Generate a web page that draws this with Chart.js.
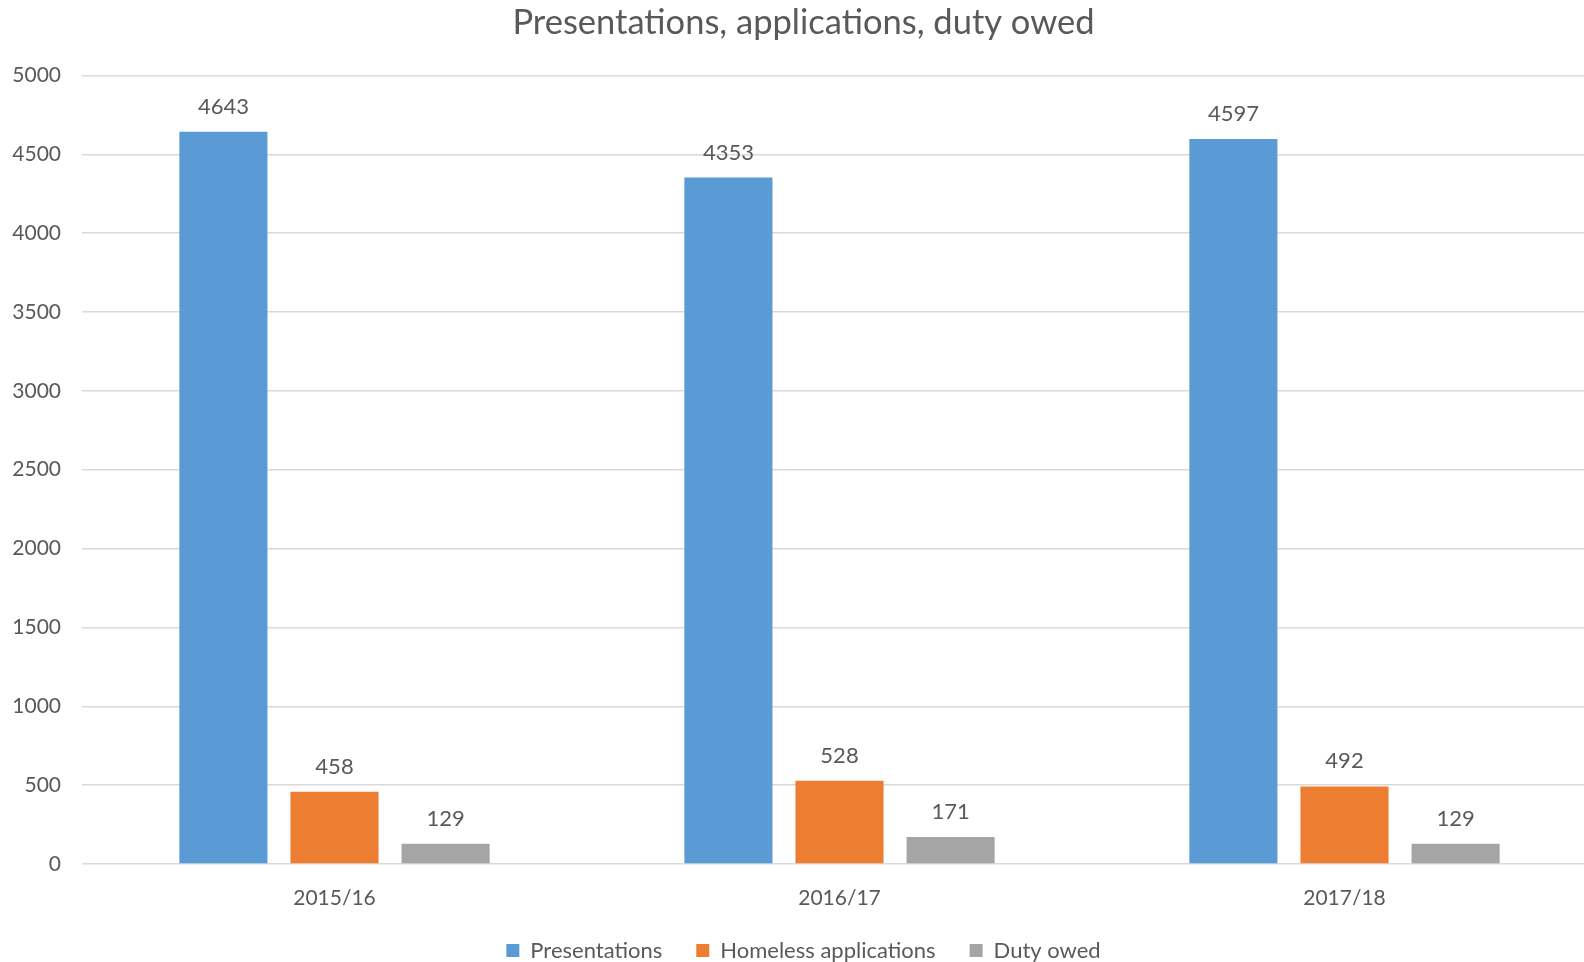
<!DOCTYPE html>
<html>
<head>
<meta charset="utf-8">
<script src="https://cdn.jsdelivr.net/npm/chart.js@4/dist/chart.umd.min.js"></script>
<style>
  html, body { margin: 0; padding: 0; background: #fff; overflow: hidden; }
  /* the original plot runs past the right edge of the picture, so the canvas is a bit wider than the page */
  #wrap { width: 1584px; height: 962px; overflow: hidden; }
</style>
</head>
<body>
<div id="wrap"><canvas id="c" width="1598" height="962"></canvas></div>
<script>
const categories = ['2015/16', '2016/17', '2017/18'];
const presentations = [4643, 4353, 4597];
const homelessApplications = [458, 528, 492];
const dutyOwed = [129, 171, 129];

const textColor = '#595959';
const fontFamily = 'Lato, "Open Sans", sans-serif';

// values above each bar
const valueLabels = {
  id: 'valueLabels',
  afterDatasetsDraw(chart) {
    const ctx = chart.ctx;
    ctx.save();
    ctx.fillStyle = textColor;
    ctx.font = '22px ' + fontFamily;
    ctx.textAlign = 'center';
    ctx.textBaseline = 'bottom';
    chart.data.datasets.forEach((ds, i) => {
      const meta = chart.getDatasetMeta(i);
      meta.data.forEach((bar, j) => {
        ctx.fillText(String(ds.data[j]), bar.x, bar.y - 14);
      });
    });
    ctx.restore();
  }
};

new Chart(document.getElementById('c').getContext('2d'), {
  type: 'bar',
  data: {
    labels: categories,
    datasets: [
      { label: 'Presentations', data: presentations, backgroundColor: '#5B9BD5' },
      { label: 'Homeless applications', data: homelessApplications, backgroundColor: '#ED7D31' },
      { label: 'Duty owed', data: dutyOwed, backgroundColor: '#A5A5A5' }
    ]
  },
  options: {
    responsive: false,
    animation: false,
    layout: { padding: { left: 10, right: 1, top: 0, bottom: -9.5 } },
    datasets: { bar: { categoryPercentage: 0.66, barPercentage: 0.793 } },
    scales: {
      x: {
        afterFit(scale) { scale.height = 41.5; },
        grid: { display: false },
        border: { display: false },
        ticks: { color: textColor, font: { family: fontFamily, size: 21 }, padding: 14 }
      },
      y: {
        min: 0,
        max: 5000,
        afterFit(scale) { scale.width = 72; },
        ticks: {
          stepSize: 500,
          color: textColor,
          font: { family: fontFamily, size: 21 },
          padding: 21,
          callback: v => String(v)
        },
        grid: { color: '#d9d9d9', lineWidth: 1.5, drawTicks: false },
        border: { display: false }
      }
    },
    plugins: {
      title: {
        display: true,
        text: 'Presentations, applications, duty owed',
        color: textColor,
        font: { family: fontFamily, size: 34.5, weight: 'normal' },
        padding: { top: 2, bottom: 32 }
      },
      legend: {
        position: 'bottom',
        labels: {
          color: textColor,
          font: { family: fontFamily, size: 22 },
          boxWidth: 13,
          boxHeight: 13,
          padding: 34
        }
      },
      tooltip: { enabled: false }
    }
  },
  plugins: [valueLabels]
});
</script>
</body>
</html>
